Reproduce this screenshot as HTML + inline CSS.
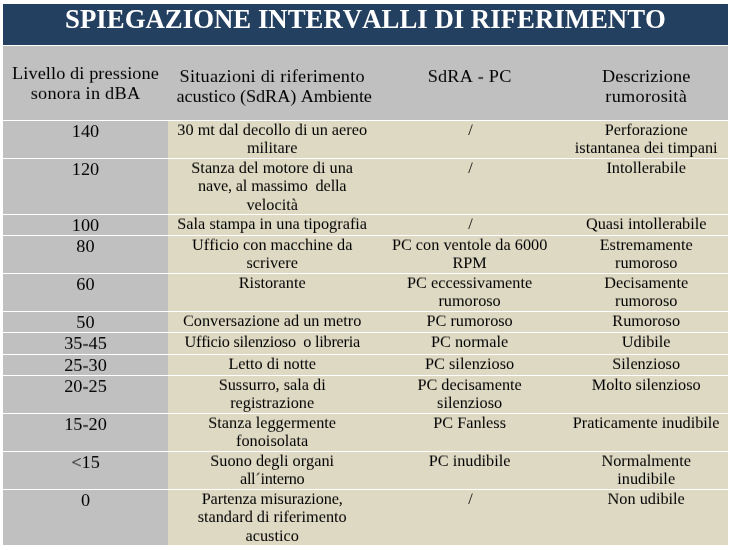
<!DOCTYPE html>
<html><head><meta charset="utf-8"><style>
html,body{margin:0;padding:0;background:#fff;width:732px;height:550px;overflow:hidden}
body{position:relative;font-family:"Liberation Serif",serif;color:#000;font-variant-ligatures:none;font-kerning:none}
.bg{position:absolute}
.t{position:absolute;text-align:center;white-space:nowrap;will-change:transform}
.title{position:absolute;will-change:transform;text-align:center;white-space:nowrap;color:#fff;font-weight:bold;font-size:26.8px;line-height:30px;}
</style></head><body>
<div class="bg" style="left:3px;top:4px;width:725px;height:41px;background:#244061"></div>
<div class="bg" style="left:3px;top:46px;width:725px;height:74px;background:#c0c0c0"></div>
<div class="bg" style="left:3px;top:121px;width:165px;height:37px;background:#c0c0c0"></div>
<div class="bg" style="left:168px;top:121px;width:560px;height:37px;background:#ddd9c3"></div>
<div class="bg" style="left:3px;top:159px;width:165px;height:55px;background:#c0c0c0"></div>
<div class="bg" style="left:168px;top:159px;width:560px;height:55px;background:#ddd9c3"></div>
<div class="bg" style="left:3px;top:215px;width:165px;height:20px;background:#c0c0c0"></div>
<div class="bg" style="left:168px;top:215px;width:560px;height:20px;background:#ddd9c3"></div>
<div class="bg" style="left:3px;top:236px;width:165px;height:37px;background:#c0c0c0"></div>
<div class="bg" style="left:168px;top:236px;width:560px;height:37px;background:#ddd9c3"></div>
<div class="bg" style="left:3px;top:274px;width:165px;height:37px;background:#c0c0c0"></div>
<div class="bg" style="left:168px;top:274px;width:560px;height:37px;background:#ddd9c3"></div>
<div class="bg" style="left:3px;top:312px;width:165px;height:20px;background:#c0c0c0"></div>
<div class="bg" style="left:168px;top:312px;width:560px;height:20px;background:#ddd9c3"></div>
<div class="bg" style="left:3px;top:333px;width:165px;height:21px;background:#c0c0c0"></div>
<div class="bg" style="left:168px;top:333px;width:560px;height:21px;background:#ddd9c3"></div>
<div class="bg" style="left:3px;top:355px;width:165px;height:20px;background:#c0c0c0"></div>
<div class="bg" style="left:168px;top:355px;width:560px;height:20px;background:#ddd9c3"></div>
<div class="bg" style="left:3px;top:376px;width:165px;height:37px;background:#c0c0c0"></div>
<div class="bg" style="left:168px;top:376px;width:560px;height:37px;background:#ddd9c3"></div>
<div class="bg" style="left:3px;top:414px;width:165px;height:37px;background:#c0c0c0"></div>
<div class="bg" style="left:168px;top:414px;width:560px;height:37px;background:#ddd9c3"></div>
<div class="bg" style="left:3px;top:452px;width:165px;height:37px;background:#c0c0c0"></div>
<div class="bg" style="left:168px;top:452px;width:560px;height:37px;background:#ddd9c3"></div>
<div class="bg" style="left:3px;top:490px;width:165px;height:55px;background:#c0c0c0"></div>
<div class="bg" style="left:168px;top:490px;width:560px;height:55px;background:#ddd9c3"></div>
<div class="title" style="left:3px;top:4.4px;width:725px;">SPIEGAZIONE INTERVALLI DI RIFERIMENTO</div>
<div class="t" style="left:3px;top:63px;width:165.0px;font-size:18.3px;line-height:20.258px;letter-spacing:0.09px;transform:scaleY(0.92);transform-origin:50% 16.31px;">Livello di pressione</div>
<div class="t" style="left:3px;top:83px;width:165.0px;font-size:18.3px;line-height:20.258px;letter-spacing:0.23px;transform:scaleY(0.92);transform-origin:50% 16.31px;">sonora in dBA</div>
<div class="t" style="left:168px;top:66px;width:208.4px;font-size:18.3px;line-height:20.258px;letter-spacing:0.22px;transform:scaleY(0.92);transform-origin:50% 16.31px;">Situazioni di riferimento</div>
<div class="t" style="left:169.5px;top:86px;width:208.4px;font-size:18.3px;line-height:20.258px;letter-spacing:-0.11px;transform:scaleY(0.92);transform-origin:50% 16.31px;">acustico (SdRA) Ambiente</div>
<div class="t" style="left:376.4px;top:66px;width:187.2px;font-size:18.3px;line-height:20.258px;letter-spacing:0.17px;transform:scaleY(0.92);transform-origin:50% 16.31px;">SdRA - PC</div>
<div class="t" style="left:563.6px;top:66px;width:164.4px;font-size:18.3px;line-height:20.258px;letter-spacing:0.1px;transform:scaleY(0.92);transform-origin:50% 16.31px;">Descrizione</div>
<div class="t" style="left:563.6px;top:86px;width:164.4px;font-size:18.3px;line-height:20.258px;letter-spacing:0.26px;transform:scaleY(0.92);transform-origin:50% 16.31px;">rumorosità</div>
<div class="t" style="left:3px;top:121px;width:165.0px;font-size:18.3px;line-height:20.258px;transform:scaleY(0.92);transform-origin:50% 16.31px;">140</div>
<div class="t" style="left:168px;top:121px;width:208.4px;font-size:16.27px;line-height:18.011px;transform:scaleY(0.96);transform-origin:50% 14.50px;">30 mt dal decollo di un aereo</div>
<div class="t" style="left:168px;top:139px;width:208.4px;font-size:16.27px;line-height:18.011px;transform:scaleY(0.96);transform-origin:50% 14.50px;">militare</div>
<div class="t" style="left:377.2px;top:121px;width:187.2px;font-size:16.27px;line-height:18.011px;transform:scaleY(0.96);transform-origin:50% 14.50px;">/</div>
<div class="t" style="left:563.6px;top:121px;width:164.4px;font-size:16.27px;line-height:18.011px;transform:scaleY(0.96);transform-origin:50% 14.50px;">Perforazione</div>
<div class="t" style="left:563.6px;top:139px;width:164.4px;font-size:16.27px;line-height:18.011px;transform:scaleY(0.96);transform-origin:50% 14.50px;">istantanea dei timpani</div>
<div class="t" style="left:3px;top:159px;width:165.0px;font-size:18.3px;line-height:20.258px;transform:scaleY(0.92);transform-origin:50% 16.31px;">120</div>
<div class="t" style="left:168px;top:159px;width:208.4px;font-size:16.27px;line-height:18.011px;transform:scaleY(0.96);transform-origin:50% 14.50px;">Stanza del motore di una</div>
<div class="t" style="left:168px;top:177px;width:208.4px;font-size:16.27px;line-height:18.011px;letter-spacing:-0.165px;transform:scaleY(0.96);transform-origin:50% 14.50px;">nave, al massimo&nbsp; della</div>
<div class="t" style="left:168px;top:196px;width:208.4px;font-size:16.27px;line-height:18.011px;transform:scaleY(0.96);transform-origin:50% 14.50px;">velocità</div>
<div class="t" style="left:377.2px;top:159px;width:187.2px;font-size:16.27px;line-height:18.011px;transform:scaleY(0.96);transform-origin:50% 14.50px;">/</div>
<div class="t" style="left:563.6px;top:159px;width:164.4px;font-size:16.27px;line-height:18.011px;transform:scaleY(0.96);transform-origin:50% 14.50px;">Intollerabile</div>
<div class="t" style="left:3px;top:215px;width:165.0px;font-size:18.3px;line-height:20.258px;transform:scaleY(0.92);transform-origin:50% 16.31px;">100</div>
<div class="t" style="left:168px;top:215px;width:208.4px;font-size:16.27px;line-height:18.011px;transform:scaleY(0.96);transform-origin:50% 14.50px;">Sala stampa in una tipografia</div>
<div class="t" style="left:377.2px;top:215px;width:187.2px;font-size:16.27px;line-height:18.011px;transform:scaleY(0.96);transform-origin:50% 14.50px;">/</div>
<div class="t" style="left:563.6px;top:215px;width:164.4px;font-size:16.27px;line-height:18.011px;transform:scaleY(0.96);transform-origin:50% 14.50px;">Quasi intollerabile</div>
<div class="t" style="left:3px;top:236px;width:165.0px;font-size:18.3px;line-height:20.258px;transform:scaleY(0.92);transform-origin:50% 16.31px;">80</div>
<div class="t" style="left:168px;top:236px;width:208.4px;font-size:16.27px;line-height:18.011px;transform:scaleY(0.96);transform-origin:50% 14.50px;">Ufficio con macchine da</div>
<div class="t" style="left:168px;top:254px;width:208.4px;font-size:16.27px;line-height:18.011px;transform:scaleY(0.96);transform-origin:50% 14.50px;">scrivere</div>
<div class="t" style="left:376.4px;top:236px;width:187.2px;font-size:16.27px;line-height:18.011px;transform:scaleY(0.96);transform-origin:50% 14.50px;">PC con ventole da 6000</div>
<div class="t" style="left:376.4px;top:254px;width:187.2px;font-size:16.27px;line-height:18.011px;transform:scaleY(0.96);transform-origin:50% 14.50px;">RPM</div>
<div class="t" style="left:563.6px;top:236px;width:164.4px;font-size:16.27px;line-height:18.011px;transform:scaleY(0.96);transform-origin:50% 14.50px;">Estremamente</div>
<div class="t" style="left:563.6px;top:254px;width:164.4px;font-size:16.27px;line-height:18.011px;transform:scaleY(0.96);transform-origin:50% 14.50px;">rumoroso</div>
<div class="t" style="left:3px;top:274px;width:165.0px;font-size:18.3px;line-height:20.258px;transform:scaleY(0.92);transform-origin:50% 16.31px;">60</div>
<div class="t" style="left:168px;top:274px;width:208.4px;font-size:16.27px;line-height:18.011px;transform:scaleY(0.96);transform-origin:50% 14.50px;">Ristorante</div>
<div class="t" style="left:376.4px;top:274px;width:187.2px;font-size:16.27px;line-height:18.011px;transform:scaleY(0.96);transform-origin:50% 14.50px;">PC eccessivamente</div>
<div class="t" style="left:376.4px;top:292px;width:187.2px;font-size:16.27px;line-height:18.011px;transform:scaleY(0.96);transform-origin:50% 14.50px;">rumoroso</div>
<div class="t" style="left:563.6px;top:274px;width:164.4px;font-size:16.27px;line-height:18.011px;transform:scaleY(0.96);transform-origin:50% 14.50px;">Decisamente</div>
<div class="t" style="left:563.6px;top:292px;width:164.4px;font-size:16.27px;line-height:18.011px;transform:scaleY(0.96);transform-origin:50% 14.50px;">rumoroso</div>
<div class="t" style="left:3px;top:312px;width:165.0px;font-size:18.3px;line-height:20.258px;transform:scaleY(0.92);transform-origin:50% 16.31px;">50</div>
<div class="t" style="left:168px;top:312px;width:208.4px;font-size:16.27px;line-height:18.011px;transform:scaleY(0.96);transform-origin:50% 14.50px;">Conversazione ad un metro</div>
<div class="t" style="left:376.4px;top:312px;width:187.2px;font-size:16.27px;line-height:18.011px;transform:scaleY(0.96);transform-origin:50% 14.50px;">PC rumoroso</div>
<div class="t" style="left:563.6px;top:312px;width:164.4px;font-size:16.27px;line-height:18.011px;transform:scaleY(0.96);transform-origin:50% 14.50px;">Rumoroso</div>
<div class="t" style="left:3px;top:333px;width:165.0px;font-size:18.3px;line-height:20.258px;transform:scaleY(0.92);transform-origin:50% 16.31px;">35-45</div>
<div class="t" style="left:168px;top:333px;width:208.4px;font-size:16.27px;line-height:18.011px;letter-spacing:-0.27px;transform:scaleY(0.96);transform-origin:50% 14.50px;">Ufficio silenzioso&nbsp; o libreria</div>
<div class="t" style="left:376.4px;top:333px;width:187.2px;font-size:16.27px;line-height:18.011px;transform:scaleY(0.96);transform-origin:50% 14.50px;">PC normale</div>
<div class="t" style="left:563.6px;top:333px;width:164.4px;font-size:16.27px;line-height:18.011px;transform:scaleY(0.96);transform-origin:50% 14.50px;">Udibile</div>
<div class="t" style="left:3px;top:355px;width:165.0px;font-size:18.3px;line-height:20.258px;transform:scaleY(0.92);transform-origin:50% 16.31px;">25-30</div>
<div class="t" style="left:168px;top:355px;width:208.4px;font-size:16.27px;line-height:18.011px;transform:scaleY(0.96);transform-origin:50% 14.50px;">Letto di notte</div>
<div class="t" style="left:376.4px;top:355px;width:187.2px;font-size:16.27px;line-height:18.011px;transform:scaleY(0.96);transform-origin:50% 14.50px;">PC silenzioso</div>
<div class="t" style="left:563.6px;top:355px;width:164.4px;font-size:16.27px;line-height:18.011px;transform:scaleY(0.96);transform-origin:50% 14.50px;">Silenzioso</div>
<div class="t" style="left:3px;top:376px;width:165.0px;font-size:18.3px;line-height:20.258px;transform:scaleY(0.92);transform-origin:50% 16.31px;">20-25</div>
<div class="t" style="left:168px;top:376px;width:208.4px;font-size:16.27px;line-height:18.011px;transform:scaleY(0.96);transform-origin:50% 14.50px;">Sussurro, sala di</div>
<div class="t" style="left:168px;top:394px;width:208.4px;font-size:16.27px;line-height:18.011px;transform:scaleY(0.96);transform-origin:50% 14.50px;">registrazione</div>
<div class="t" style="left:376.4px;top:376px;width:187.2px;font-size:16.27px;line-height:18.011px;transform:scaleY(0.96);transform-origin:50% 14.50px;">PC decisamente</div>
<div class="t" style="left:376.4px;top:394px;width:187.2px;font-size:16.27px;line-height:18.011px;transform:scaleY(0.96);transform-origin:50% 14.50px;">silenzioso</div>
<div class="t" style="left:563.6px;top:376px;width:164.4px;font-size:16.27px;line-height:18.011px;transform:scaleY(0.96);transform-origin:50% 14.50px;">Molto silenzioso</div>
<div class="t" style="left:3px;top:414px;width:165.0px;font-size:18.3px;line-height:20.258px;transform:scaleY(0.92);transform-origin:50% 16.31px;">15-20</div>
<div class="t" style="left:168px;top:414px;width:208.4px;font-size:16.27px;line-height:18.011px;transform:scaleY(0.96);transform-origin:50% 14.50px;">Stanza leggermente</div>
<div class="t" style="left:168px;top:432px;width:208.4px;font-size:16.27px;line-height:18.011px;transform:scaleY(0.96);transform-origin:50% 14.50px;">fonoisolata</div>
<div class="t" style="left:376.4px;top:414px;width:187.2px;font-size:16.27px;line-height:18.011px;transform:scaleY(0.96);transform-origin:50% 14.50px;">PC Fanless</div>
<div class="t" style="left:563.6px;top:414px;width:164.4px;font-size:16.27px;line-height:18.011px;transform:scaleY(0.96);transform-origin:50% 14.50px;">Praticamente inudibile</div>
<div class="t" style="left:3px;top:452px;width:165.0px;font-size:18.3px;line-height:20.258px;transform:scaleY(0.92);transform-origin:50% 16.31px;">&lt;15</div>
<div class="t" style="left:168px;top:452px;width:208.4px;font-size:16.27px;line-height:18.011px;transform:scaleY(0.96);transform-origin:50% 14.50px;">Suono degli organi</div>
<div class="t" style="left:168px;top:470px;width:208.4px;font-size:16.27px;line-height:18.011px;letter-spacing:-0.3px;transform:scaleY(0.96);transform-origin:50% 14.50px;">all´interno</div>
<div class="t" style="left:376.4px;top:452px;width:187.2px;font-size:16.27px;line-height:18.011px;transform:scaleY(0.96);transform-origin:50% 14.50px;">PC inudibile</div>
<div class="t" style="left:563.6px;top:452px;width:164.4px;font-size:16.27px;line-height:18.011px;transform:scaleY(0.96);transform-origin:50% 14.50px;">Normalmente</div>
<div class="t" style="left:563.6px;top:470px;width:164.4px;font-size:16.27px;line-height:18.011px;transform:scaleY(0.96);transform-origin:50% 14.50px;">inudibile</div>
<div class="t" style="left:3px;top:490px;width:165.0px;font-size:18.3px;line-height:20.258px;transform:scaleY(0.92);transform-origin:50% 16.31px;">0</div>
<div class="t" style="left:168px;top:490px;width:208.4px;font-size:16.27px;line-height:18.011px;letter-spacing:-0.12px;transform:scaleY(0.96);transform-origin:50% 14.50px;">Partenza misurazione,</div>
<div class="t" style="left:168px;top:508px;width:208.4px;font-size:16.27px;line-height:18.011px;transform:scaleY(0.96);transform-origin:50% 14.50px;">standard di riferimento</div>
<div class="t" style="left:168px;top:527px;width:208.4px;font-size:16.27px;line-height:18.011px;transform:scaleY(0.96);transform-origin:50% 14.50px;">acustico</div>
<div class="t" style="left:377.2px;top:490px;width:187.2px;font-size:16.27px;line-height:18.011px;transform:scaleY(0.96);transform-origin:50% 14.50px;">/</div>
<div class="t" style="left:563.6px;top:490px;width:164.4px;font-size:16.27px;line-height:18.011px;transform:scaleY(0.96);transform-origin:50% 14.50px;">Non udibile</div>
</body></html>
